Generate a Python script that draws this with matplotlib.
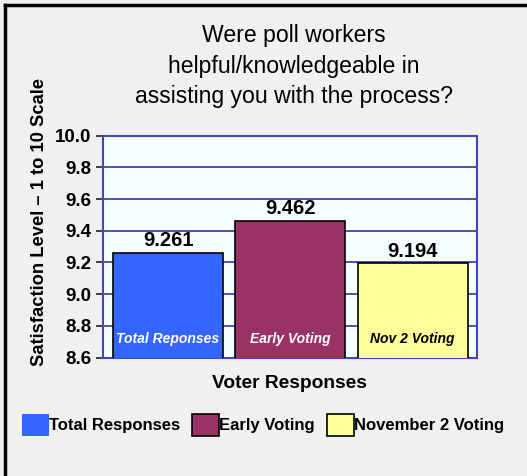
import matplotlib
matplotlib.use("Agg")
import matplotlib.pyplot as plt
from matplotlib.patches import Patch
from matplotlib.lines import Line2D

categories = ["Total Reponses", "Early Voting", "Nov 2 Voting"]
values = [9.261, 9.462, 9.194]
legend_labels = ["Total Responses", "Early Voting", "November 2 Voting"]
colors = ["#3366ff", "#993366", "#ffff99"]
inner_text_colors = ["white", "white", "black"]
yticks = [8.6, 8.8, 9.0, 9.2, 9.4, 9.6, 9.8, 10.0]

plt.rcParams['font.family'] = ['Liberation Sans', 'DejaVu Sans']

W, H = 527, 476
fig = plt.figure(figsize=(W/100, H/100), dpi=100, facecolor="#f0f0f0")

# figure border (top and left)
fig.add_artist(Line2D([5/W, 5/W], [0, 1 - 5/H], color="black", lw=2.5, transform=fig.transFigure))
fig.add_artist(Line2D([5/W, 1], [1 - 5/H, 1 - 5/H], color="black", lw=2.5, transform=fig.transFigure))

left, right, top, bottom = 102.7, 477, 135.7, 357.5
ax = fig.add_axes([left/W, 1 - bottom/H, (right-left)/W, (bottom-top)/H])
ax.set_facecolor("#f5ffff")

x = list(range(len(categories)))
bars = ax.bar(x, values, width=0.9, color=colors, edgecolor="black", linewidth=1.2, zorder=3, bottom=0)
ax.set_ylim(8.6, 10.0)
ax.set_xlim(-0.534, 2.526)
ax.set_yticks(yticks)
ax.set_yticklabels([f"{v:.1f}" for v in yticks], fontsize=13.5, fontweight="bold")
ax.set_xticks([])
ax.yaxis.grid(True, color="#3333aa", lw=1.2, zorder=1)
for s in ax.spines.values():
    s.set_color("#4444bb")
    s.set_linewidth(1.5)
ax.tick_params(axis="y", length=5, width=1.2, color="#222222", pad=3)

for xi, v, c, tc in zip(x, values, categories, inner_text_colors):
    ax.annotate(f"{v:.3f}", (xi, v), xytext=(0, 2), textcoords="offset points",
                ha="center", va="bottom", fontsize=14.5, fontweight="bold", color="black", zorder=5)
    ax.text(xi, 8.715, c, ha="center", va="center", fontsize=10, fontweight="bold",
            fontstyle="italic", color=tc, zorder=5)

fig.text(294/W, 1 - 66/H, "Were poll workers\nhelpful/knowledgeable in\nassisting you with the process?",
         ha="center", va="center", fontsize=16.6, linespacing=1.4)
fig.text(40/W, 1 - 222/H, "Satisfaction Level \u2013 1 to 10 Scale", rotation=90,
         ha="center", va="center", fontsize=13.2, fontweight="bold")
fig.text(289/W, 1 - 384/H, "Voter Responses", ha="center", va="center", fontsize=13.8, fontweight="bold")

handles = [Patch(facecolor=colors[0], edgecolor="none"),
           Patch(facecolor=colors[1], edgecolor="black", linewidth=1.2),
           Patch(facecolor=colors[2], edgecolor="black", linewidth=1.2)]
fig.legend(handles, legend_labels, ncol=3, loc="center", bbox_to_anchor=(263/W, 1 - 425/H),
           frameon=False, handlelength=1.6, handleheight=1.6, handletextpad=0.0,
           columnspacing=0.75, prop={"size": 12, "weight": "bold"})

fig.savefig("out.png", dpi=100, facecolor=fig.get_facecolor())
